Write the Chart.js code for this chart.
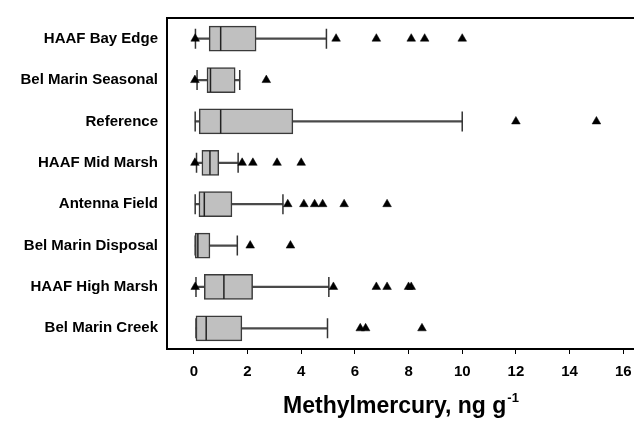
<!DOCTYPE html>
<html>
<head>
<meta charset="utf-8">
<title>Methylmercury by site</title>
<script src="https://cdn.jsdelivr.net/npm/chart.js@4/dist/chart.umd.min.js"></script>
<style>
  html, body { margin: 0; padding: 0; background: #fff; }
  #chart { display: block; }
</style>
</head>
<body>
<canvas id="chart" width="634" height="421"></canvas>
<script>
// box plot summaries per site, ng/g
const sites = ['HAAF Bay Edge', 'Bel Marin Seasonal', 'Reference', 'HAAF Mid Marsh',
  'Antenna Field', 'Bel Marin Disposal', 'HAAF High Marsh', 'Bel Marin Creek'];
const whiskerLow  = [0.06, 0.12, 0.05, 0.10, 0.05, 0.05, 0.08, 0.08];
const q1          = [0.57, 0.49, 0.20, 0.30, 0.19, 0.05, 0.39, 0.08];
const median      = [1.00, 0.62, 1.00, 0.60, 0.39, 0.15, 1.12, 0.46];
const q3          = [2.32, 1.54, 3.69, 0.93, 1.42, 0.60, 2.19, 1.79];
const whiskerHigh = [4.94, 1.71, 10.0, 1.65, 3.32, 1.62, 5.03, 4.98];
const outliers = [
  [0.05, 5.3, 6.8, 8.1, 8.6, 10.0],
  [0.04, 2.7],
  [12.0, 15.0],
  [0.04, 1.8, 2.2, 3.1, 4.0],
  [3.5, 4.1, 4.5, 4.8, 5.6, 7.2],
  [2.1, 3.6],
  [0.05, 5.2, 6.8, 7.2, 8.0, 8.1],
  [6.2, 6.4, 8.5]
];
const xTicks = [0, 2, 4, 6, 8, 10, 12, 14, 16];

const FONT = 'Liberation Sans, Arial, Helvetica, sans-serif';

// points helpers for the scatter layers
const at = (vals) => sites.map((s, i) => ({ x: vals[i], y: s }));
const outlierPts = [];
outliers.forEach((list, i) => list.forEach(v => outlierPts.push({ x: v, y: sites[i] })));

// top frame line + axis title with superscript
const framePlugin = {
  id: 'frameAndTitle',
  afterDraw(chart) {
    const { ctx, chartArea } = chart;
    ctx.save();
    ctx.strokeStyle = '#000';
    ctx.lineWidth = 2;
    ctx.beginPath();
    ctx.moveTo(chartArea.left - 1, chartArea.top);
    ctx.lineTo(chart.width, chartArea.top);
    ctx.stroke();

    const main = 'Methylmercury, ng g';
    const sup = '-1';
    ctx.fillStyle = '#000';
    ctx.textBaseline = 'alphabetic';
    ctx.font = 'bold 23px ' + FONT;
    const wMain = ctx.measureText(main).width;
    ctx.font = 'bold 13px ' + FONT;
    const wSup = ctx.measureText(sup).width;
    const cx = (chartArea.left + chartArea.right) / 2;
    const x0 = cx - (wMain + wSup) / 2;
    ctx.font = 'bold 23px ' + FONT;
    ctx.fillText(main, x0, 413);
    ctx.font = 'bold 13px ' + FONT;
    ctx.fillText(sup, x0 + wMain + 1, 402);
    ctx.restore();
  }
};

new Chart(document.getElementById('chart'), {
  type: 'bar',
  data: {
    labels: sites,
    datasets: [
      { // whisker line, sits under the box
        type: 'bar',
        data: sites.map((s, i) => [whiskerLow[i], whiskerHigh[i]]),
        backgroundColor: '#4a4a4a',
        borderWidth: 0,
        barThickness: 1.6,
        grouped: false,
        order: 5
      },
      { // whisker caps
        type: 'scatter',
        data: at(whiskerLow).concat(at(whiskerHigh)),
        pointStyle: 'line',
        rotation: 90,
        pointRadius: 10,
        borderColor: '#333',
        borderWidth: 1.5,
        order: 4
      },
      { // interquartile box
        type: 'bar',
        data: sites.map((s, i) => [q1[i], q3[i]]),
        backgroundColor: '#c0c0c0',
        borderColor: '#3a3a3a',
        borderWidth: 1.5,
        borderSkipped: false,
        barThickness: 25,
        grouped: false,
        order: 3
      },
      { // median
        type: 'scatter',
        data: at(median),
        pointStyle: 'line',
        rotation: 90,
        pointRadius: 12,
        borderColor: '#222',
        borderWidth: 1.5,
        order: 2
      },
      { // outliers
        type: 'scatter',
        data: outlierPts,
        pointStyle: 'triangle',
        pointRadius: 5,
        backgroundColor: '#000',
        borderColor: '#000',
        borderWidth: 0.5,
        order: 1
      }
    ]
  },
  options: {
    responsive: false,
    devicePixelRatio: 1,
    animation: false,
    indexAxis: 'y',
    // points must not push the plot area inwards
    layout: { autoPadding: false, padding: { top: 13, right: 0, left: 0, bottom: 0 } },
    plugins: {
      legend: { display: false },
      tooltip: { enabled: false }
    },
    scales: {
      x: {
        type: 'linear',
        min: -1,
        max: 16.4,
        afterBuildTicks(scale) {
          scale.ticks = xTicks.map(v => ({ value: v }));
        },
        afterFit(scale) {
          scale.height = 72;
          scale.paddingLeft = 0;
          scale.paddingRight = 0;
        },
        grid: {
          drawOnChartArea: false,
          drawTicks: true,
          tickLength: 5,
          color: '#000',
          lineWidth: 1
        },
        border: { display: true, color: '#000', width: 2 },
        ticks: {
          color: '#000',
          padding: 9,
          maxRotation: 0,
          font: { family: FONT, size: 15, weight: 'bold' }
        }
      },
      y: {
        type: 'category',
        labels: sites,
        offset: true,
        afterFit(scale) { scale.width = 167; },
        grid: { display: false, drawTicks: false },
        border: { display: true, color: '#000', width: 2 },
        ticks: {
          color: '#000',
          padding: 9,
          font: { family: FONT, size: 15, weight: 'bold' }
        }
      }
    }
  },
  plugins: [framePlugin]
});
</script>
</body>
</html>
